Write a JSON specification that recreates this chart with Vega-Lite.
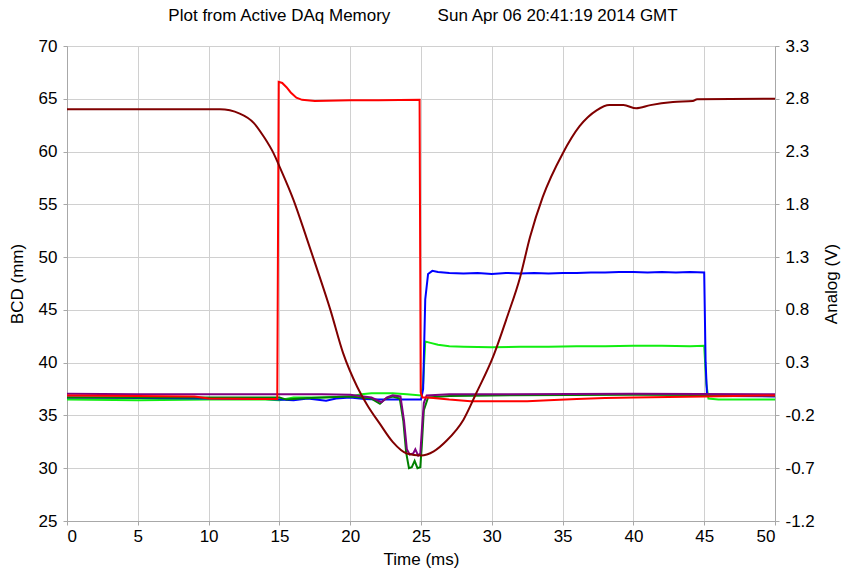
{
  "$schema": "https://vega.github.io/schema/vega-lite/v6.json",
  "width": 708,
  "height": 475,
  "autosize": "none",
  "padding": {"left": 67, "top": 46, "right": 68, "bottom": 52},
  "background": "white",
  "config": {
    "view": {"stroke": "#a8a8a8", "strokeWidth": 1},
    "axis": {"labelFont": "Liberation Sans", "titleFont": "Liberation Sans", "labelFontSize": 17, "titleFontSize": 17, "titleFontWeight": "normal", "labelColor": "#000", "titleColor": "#000", "gridColor": "#d0d0d0", "gridWidth": 1, "domainColor": "#a8a8a8", "tickColor": "#a8a8a8", "tickSize": 4, "labelPadding": 5}
  },
  "title": {"text": "Plot from Active DAq Memory\u00a0\u00a0\u00a0\u00a0\u00a0\u00a0\u00a0\u00a0\u00a0\u00a0Sun Apr 06 20:41:19 2014 GMT", "font": "Liberation Sans", "fontSize": 17, "fontWeight": "normal", "color": "#000", "offset": 12, "dx": 2},
  "datasets": {
    "bcd": [
      {"s": "green", "t": 0, "v": 36.5}, {"s": "green", "t": 5, "v": 36.45}, {"s": "green", "t": 10, "v": 36.5}, {"s": "green", "t": 14, "v": 36.5}, {"s": "green", "t": 15, "v": 36.45}, {"s": "green", "t": 16, "v": 36.7}, {"s": "green", "t": 18, "v": 36.7}, {"s": "green", "t": 20, "v": 36.8}, {"s": "green", "t": 20.8, "v": 37.0}, {"s": "green", "t": 21.5, "v": 37.1}, {"s": "green", "t": 23, "v": 37.1}, {"s": "green", "t": 24, "v": 37.0}, {"s": "green", "t": 25.0, "v": 36.9}, {"s": "green", "t": 25.15, "v": 38}, {"s": "green", "t": 25.3, "v": 42.0}, {"s": "green", "t": 25.6, "v": 41.9}, {"s": "green", "t": 26.2, "v": 41.7}, {"s": "green", "t": 27, "v": 41.55}, {"s": "green", "t": 28, "v": 41.5}, {"s": "green", "t": 30, "v": 41.45}, {"s": "green", "t": 32, "v": 41.5}, {"s": "green", "t": 34, "v": 41.5}, {"s": "green", "t": 36, "v": 41.55}, {"s": "green", "t": 38, "v": 41.55}, {"s": "green", "t": 40, "v": 41.6}, {"s": "green", "t": 42, "v": 41.6}, {"s": "green", "t": 44, "v": 41.55}, {"s": "green", "t": 45.0, "v": 41.6}, {"s": "green", "t": 45.15, "v": 38}, {"s": "green", "t": 45.3, "v": 36.6}, {"s": "green", "t": 46, "v": 36.5}, {"s": "green", "t": 50, "v": 36.5},

      {"s": "blue", "t": 0, "v": 36.7}, {"s": "blue", "t": 5, "v": 36.65}, {"s": "blue", "t": 10, "v": 36.6}, {"s": "blue", "t": 14, "v": 36.55}, {"s": "blue", "t": 15, "v": 36.5}, {"s": "blue", "t": 16, "v": 36.45}, {"s": "blue", "t": 17, "v": 36.6}, {"s": "blue", "t": 18.3, "v": 36.4}, {"s": "blue", "t": 19, "v": 36.6}, {"s": "blue", "t": 20, "v": 36.7}, {"s": "blue", "t": 21, "v": 36.55}, {"s": "blue", "t": 22, "v": 36.5}, {"s": "blue", "t": 23, "v": 36.5}, {"s": "blue", "t": 24.5, "v": 36.5}, {"s": "blue", "t": 25.0, "v": 36.5}, {"s": "blue", "t": 25.15, "v": 37.5}, {"s": "blue", "t": 25.3, "v": 46}, {"s": "blue", "t": 25.5, "v": 48.4}, {"s": "blue", "t": 25.8, "v": 48.7}, {"s": "blue", "t": 26.2, "v": 48.6}, {"s": "blue", "t": 27, "v": 48.5}, {"s": "blue", "t": 28, "v": 48.45}, {"s": "blue", "t": 29, "v": 48.5}, {"s": "blue", "t": 30, "v": 48.4}, {"s": "blue", "t": 31, "v": 48.5}, {"s": "blue", "t": 32, "v": 48.45}, {"s": "blue", "t": 33, "v": 48.5}, {"s": "blue", "t": 34, "v": 48.45}, {"s": "blue", "t": 35, "v": 48.5}, {"s": "blue", "t": 36, "v": 48.5}, {"s": "blue", "t": 37, "v": 48.55}, {"s": "blue", "t": 38, "v": 48.55}, {"s": "blue", "t": 39, "v": 48.6}, {"s": "blue", "t": 40, "v": 48.6}, {"s": "blue", "t": 41, "v": 48.55}, {"s": "blue", "t": 42, "v": 48.6}, {"s": "blue", "t": 43, "v": 48.55}, {"s": "blue", "t": 44, "v": 48.6}, {"s": "blue", "t": 45.0, "v": 48.55}, {"s": "blue", "t": 45.1, "v": 40}, {"s": "blue", "t": 45.2, "v": 36.9}, {"s": "blue", "t": 46, "v": 36.85}, {"s": "blue", "t": 50, "v": 36.8},

      {"s": "darkgreen", "t": 0, "v": 36.7}, {"s": "darkgreen", "t": 5, "v": 36.7}, {"s": "darkgreen", "t": 10, "v": 36.7}, {"s": "darkgreen", "t": 14, "v": 36.7}, {"s": "darkgreen", "t": 15, "v": 36.7}, {"s": "darkgreen", "t": 15.5, "v": 36.5}, {"s": "darkgreen", "t": 16.5, "v": 36.6}, {"s": "darkgreen", "t": 18, "v": 36.7}, {"s": "darkgreen", "t": 20, "v": 36.8}, {"s": "darkgreen", "t": 21.5, "v": 36.6}, {"s": "darkgreen", "t": 22.1, "v": 36.1}, {"s": "darkgreen", "t": 22.5, "v": 36.6}, {"s": "darkgreen", "t": 23, "v": 36.8}, {"s": "darkgreen", "t": 23.5, "v": 36.6}, {"s": "darkgreen", "t": 23.75, "v": 34.5}, {"s": "darkgreen", "t": 23.95, "v": 31.5}, {"s": "darkgreen", "t": 24.15, "v": 30.0}, {"s": "darkgreen", "t": 24.35, "v": 30.1}, {"s": "darkgreen", "t": 24.55, "v": 30.7}, {"s": "darkgreen", "t": 24.75, "v": 30.0}, {"s": "darkgreen", "t": 24.95, "v": 30.1}, {"s": "darkgreen", "t": 25.05, "v": 32}, {"s": "darkgreen", "t": 25.2, "v": 35.5}, {"s": "darkgreen", "t": 25.5, "v": 36.7}, {"s": "darkgreen", "t": 27, "v": 36.85}, {"s": "darkgreen", "t": 30, "v": 36.9}, {"s": "darkgreen", "t": 40, "v": 36.95}, {"s": "darkgreen", "t": 50, "v": 36.9},

      {"s": "purple", "t": 0, "v": 37.05}, {"s": "purple", "t": 5, "v": 37.0}, {"s": "purple", "t": 10, "v": 37.0}, {"s": "purple", "t": 15, "v": 37.0}, {"s": "purple", "t": 18, "v": 37.0}, {"s": "purple", "t": 20, "v": 36.95}, {"s": "purple", "t": 21.5, "v": 36.7}, {"s": "purple", "t": 22.2, "v": 36.25}, {"s": "purple", "t": 22.6, "v": 36.7}, {"s": "purple", "t": 23, "v": 36.9}, {"s": "purple", "t": 23.55, "v": 36.8}, {"s": "purple", "t": 23.8, "v": 34.5}, {"s": "purple", "t": 24.0, "v": 31.8}, {"s": "purple", "t": 24.2, "v": 31.3}, {"s": "purple", "t": 24.45, "v": 31.4}, {"s": "purple", "t": 24.6, "v": 31.8}, {"s": "purple", "t": 24.8, "v": 31.2}, {"s": "purple", "t": 24.95, "v": 31.4}, {"s": "purple", "t": 25.08, "v": 34}, {"s": "purple", "t": 25.2, "v": 36.2}, {"s": "purple", "t": 25.4, "v": 36.9}, {"s": "purple", "t": 27, "v": 37.0}, {"s": "purple", "t": 30, "v": 37.0}, {"s": "purple", "t": 40, "v": 37.05}, {"s": "purple", "t": 50, "v": 37.0},

      {"s": "red", "t": 0, "v": 36.9}, {"s": "red", "t": 5, "v": 36.85}, {"s": "red", "t": 9, "v": 36.8}, {"s": "red", "t": 10, "v": 36.6}, {"s": "red", "t": 14.85, "v": 36.55}, {"s": "red", "t": 14.95, "v": 66.6}, {"s": "red", "t": 15.2, "v": 66.5}, {"s": "red", "t": 15.5, "v": 66.1}, {"s": "red", "t": 15.8, "v": 65.6}, {"s": "red", "t": 16.2, "v": 65.1}, {"s": "red", "t": 16.6, "v": 64.9}, {"s": "red", "t": 17.5, "v": 64.8}, {"s": "red", "t": 20, "v": 64.85}, {"s": "red", "t": 22, "v": 64.85}, {"s": "red", "t": 24.9, "v": 64.9}, {"s": "red", "t": 24.98, "v": 37.2}, {"s": "red", "t": 25.1, "v": 36.7}, {"s": "red", "t": 25.5, "v": 36.7}, {"s": "red", "t": 27, "v": 36.5}, {"s": "red", "t": 28.5, "v": 36.35}, {"s": "red", "t": 30, "v": 36.35}, {"s": "red", "t": 32.5, "v": 36.35}, {"s": "red", "t": 34, "v": 36.45}, {"s": "red", "t": 36, "v": 36.55}, {"s": "red", "t": 38, "v": 36.65}, {"s": "red", "t": 40, "v": 36.7}, {"s": "red", "t": 45, "v": 36.8}, {"s": "red", "t": 50, "v": 36.9}
    ],
    "analog": [
      {"t": 0, "v": 2.70}, {"t": 10.8, "v": 2.70}, {"t": 12.2, "v": 2.66}, {"t": 13.2, "v": 2.57}, {"t": 13.9, "v": 2.44}, {"t": 14.6, "v": 2.28}, {"t": 15.0, "v": 2.16}, {"t": 16.0, "v": 1.84}, {"t": 16.9, "v": 1.49}, {"t": 17.6, "v": 1.21}, {"t": 18.6, "v": 0.80}, {"t": 19.5, "v": 0.39}, {"t": 20.5, "v": 0.07}, {"t": 21.2, "v": -0.10}, {"t": 22.1, "v": -0.28}, {"t": 23.0, "v": -0.45}, {"t": 24.0, "v": -0.56}, {"t": 25.0, "v": -0.58}, {"t": 25.9, "v": -0.54}, {"t": 26.8, "v": -0.44}, {"t": 28.0, "v": -0.24}, {"t": 28.9, "v": 0.01}, {"t": 30.1, "v": 0.36}, {"t": 31.1, "v": 0.74}, {"t": 32.0, "v": 1.11}, {"t": 32.7, "v": 1.49}, {"t": 33.6, "v": 1.87}, {"t": 35.0, "v": 2.28}, {"t": 36.2, "v": 2.54}, {"t": 37.4, "v": 2.69}, {"t": 38.3, "v": 2.74}, {"t": 39.3, "v": 2.74}, {"t": 40.2, "v": 2.71}, {"t": 41.2, "v": 2.74}, {"t": 42.8, "v": 2.77}, {"t": 44.2, "v": 2.78}, {"t": 44.5, "v": 2.795}, {"t": 50, "v": 2.80}
    ]
  },
  "layer": [
    {
      "data": {"name": "bcd"},
      "mark": {"type": "line", "strokeWidth": 2, "interpolate": "linear"},
      "encoding": {
        "x": {"field": "t", "type": "quantitative", "scale": {"domain": [0, 50], "nice": false}, "axis": {"title": "Time (ms)", "values": [0,5,10,15,20,25,30,35,40,45,50], "labelPadding": 3, "titlePadding": 7}},
        "y": {"field": "v", "type": "quantitative", "scale": {"domain": [25, 70], "nice": false, "zero": false}, "axis": {"title": "BCD (mm)", "values": [25,30,35,40,45,50,55,60,65,70], "labelPadding": 6, "titlePadding": 12}},
        "color": {"field": "s", "type": "nominal", "scale": {"domain": ["green", "blue", "darkgreen", "purple", "red"], "range": ["#11ee11", "#0000ff", "#008000", "#800080", "#ff0000"]}, "legend": null},
        "order": {"field": "t"}
      }
    },
    {
      "data": {"name": "analog"},
      "mark": {"type": "line", "strokeWidth": 2, "color": "#800000", "interpolate": "monotone"},
      "encoding": {
        "x": {"field": "t", "type": "quantitative"},
        "y": {"field": "v", "type": "quantitative", "scale": {"domain": [-1.2, 3.3], "nice": false, "zero": false}, "axis": {"title": "Analog (V)", "orient": "right", "grid": false, "values": [-1.2,-0.7,-0.2,0.3,0.8,1.3,1.8,2.3,2.8,3.3], "labelExpr": "replace(format(datum.value, '.1f'), '\u2212', '-')", "labelPadding": 6, "titlePadding": 9, "titleAngle": 270, "titleBaseline": "top"}}
      }
    }
  ],
  "resolve": {"scale": {"y": "independent"}}
}
